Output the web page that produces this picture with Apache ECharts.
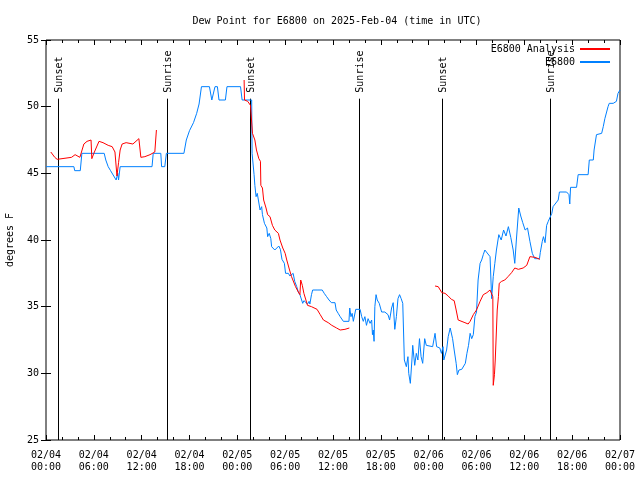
<!DOCTYPE html>
<html>
<head>
<meta charset="utf-8">
<script src="https://cdn.jsdelivr.net/npm/echarts@6/dist/echarts.min.js"></script>
<style>html,body{margin:0;padding:0;background:#fff}#c{width:640px;height:480px}</style>
</head>
<body>
<div id="c"></div>
<script>
// hours since 2025-02-04 00:00 UTC, dew point (F)
const stationSeries = [
[0,45.5],[3.5,45.5],[3.6,45.2],[4.3,45.2],[4.5,46.5],[7.3,46.5],[7.5,46.0],[7.8,45.5],[8.1,45.2],[8.5,44.8],[8.8,44.5],[9.0,45.0],[9.1,44.5],[9.3,45.5],
[13.3,45.5],[13.45,46.5],[14.4,46.5],[14.5,45.5],[14.9,45.5],[15.1,46.5],[17.3,46.5],[17.6,47.5],[18.0,48.2],[18.5,48.8],[18.9,49.5],[19.2,50.2],[19.5,51.5],
[20.5,51.5],[20.8,50.5],[21.0,50.5],[21.2,51.5],[21.5,51.5],[21.7,50.5],[22.5,50.5],[22.7,51.5],[24.4,51.5],[24.6,50.5],[25.8,50.5],[25.85,46.5],[26.1,44.9],
[26.2,44.1],[26.35,43.25],[26.5,43.5],[26.75,43.5],[26.85,42.25],[27.05,42.5],[27.15,41.9],[27.4,41.25],[27.7,40.9],[27.8,40.25],[28.0,40.5],[28.2,40.1],
[28.3,39.5],[28.7,39.25],[28.9,39.25],[29.2,39.55],[29.4,39.3],[29.6,38.55],[29.9,38.25],[30.05,37.5],[30.4,37.5],[30.6,37.3],[30.8,37.25],[31.0,37.5],
[31.2,36.9],[31.45,36.5],[31.65,36.1],[31.85,35.9],[32.05,35.75],[32.2,35.25],[32.35,35.45],[32.6,35.4],[32.8,35.2],[33.0,35.4],[33.1,35.2],[33.3,35.9],
[33.45,36.25],[34.0,36.25],[34.65,36.25],[34.9,36.0],[35.2,35.75],[35.5,35.5],[35.8,35.3],[36.25,35.3],[36.4,34.75],[36.65,34.5],[36.9,34.25],[37.3,33.9],
[38.0,33.9],[38.1,34.9],[38.25,34.25],[38.4,34.5],[38.55,33.9],[38.85,34.8],[39.4,34.8],[39.6,34.25],[39.8,33.9],[40.0,34.25],[40.2,33.6],[40.4,34.1],
[40.65,33.75],[40.85,34.0],[40.95,32.9],[41.05,33.25],[41.15,32.4],[41.25,35.0],[41.4,35.9],[41.55,35.5],[41.8,35.25],[41.9,35.1],[42.1,34.6],[42.3,34.5],
[42.5,34.6],[42.7,34.75],[42.9,34.4],[43.1,34.0],[43.35,34.9],[43.55,35.3],[43.75,33.3],[43.95,34.25],[44.15,35.6],[44.35,35.9],[44.55,35.6],[44.75,35.25],
[44.95,31.0],[45.2,30.5],[45.4,31.25],[45.5,30.0],[45.7,29.25],[45.9,31.0],[46.0,32.1],[46.25,30.6],[46.45,31.5],[46.65,31.0],[46.85,32.6],[47.05,31.25],
[47.25,30.75],[47.5,32.6],[47.7,32.1],[47.9,32.0],[48.5,32.0],[48.8,33.0],[49.0,32.0],[49.4,31.9],[49.6,31.5],[49.8,32.0],[49.9,31.0],[50.05,31.0],
[50.25,31.75],[50.45,32.75],[50.7,33.4],[50.8,33.4],[51.0,32.6],[51.2,31.75],[51.45,30.75],[51.6,29.9],[51.8,30.25],[52.15,30.3],[52.35,30.4],[52.6,30.75],
[52.8,31.5],[53.0,32.1],[53.2,33.0],[53.4,32.6],[53.6,32.9],[53.8,34.25],[54.0,34.6],[54.2,37.0],[54.45,38.25],[54.65,38.5],[54.85,38.9],[55.05,39.25],
[55.3,39.3],[55.7,38.75],[55.9,35.6],[56.1,37.25],[56.3,38.25],[56.5,39.25],[56.8,40.4],[57.1,40.0],[57.4,40.75],[57.7,40.3],[58.0,41.0],[58.3,40.2],
[58.6,39.25],[58.8,38.25],[59.0,40.0],[59.3,42.4],[59.55,41.8],[59.8,41.3],[60.1,40.75],[60.4,40.9],[60.7,39.9],[61.0,39.0],[61.3,38.6],[61.9,38.6],
[62.0,39.05],[62.25,39.9],[62.4,40.25],[62.6,39.8],[62.8,41.1],[63.0,41.4],[63.2,41.4],[63.45,42.0],[63.6,42.5],[63.85,42.6],[64.25,43.0],[64.4,43.6],
[65.3,43.6],[65.6,43.4],[65.7,42.7],[65.8,43.95],[66.55,43.95],[66.75,44.9],[68.0,44.9],[68.15,46.0],[68.65,46.0],[68.75,46.75],[69.05,47.9],[69.7,48.0],
[69.9,48.5],[70.1,49.1],[70.3,49.2],[70.5,50.0],[70.65,50.25],[71.15,50.25],[71.55,50.4],[71.75,51.0],[72.0,51.25]
];
const analysisSeries = [
[0.6,46.6],[1.1,46.2],[1.4,46.05],[1.6,46.0],[3.2,46.2],[3.65,46.4],[4.25,46.2],[4.75,47.2],[5.15,47.4],[5.65,47.5],[5.75,46.1],[6.0,46.5],[6.65,47.4],
[7.15,47.3],[7.8,47.1],[8.3,47.0],[8.65,46.6],[8.9,44.8],[9.1,45.8],[9.3,46.75],[9.55,47.2],[10.05,47.3],[10.9,47.2],[11.65,47.6],[11.9,46.2],[12.4,46.25],
[13.05,46.4],[13.65,46.6],[13.85,48.25],
[20,null],
[24.85,52.0],[24.9,50.5],[25.3,50.4],[25.65,50.1],[25.9,48.0],[26.2,47.5],[26.4,46.75],[26.7,46.1],[26.9,45.9],[26.95,44.1],[27.15,43.9],[27.3,43.0],
[27.6,42.4],[27.8,41.9],[28.1,41.75],[28.4,41.1],[28.7,40.75],[29.15,40.5],[29.35,40.0],[29.7,39.4],[30.0,39.0],[30.2,38.5],[30.55,37.75],[30.8,37.25],
[31.0,37.1],[31.3,36.5],[31.65,36.1],[31.85,35.9],[31.95,37.0],[32.15,36.6],[32.35,36.0],[32.6,35.5],[32.8,35.1],[33.3,35.0],[34.0,34.8],[34.4,34.4],
[34.8,34.0],[35.4,33.8],[35.85,33.6],[36.45,33.4],[36.9,33.25],[37.5,33.3],[38.05,33.4],
[43,null],
[48.8,36.55],[49.2,36.5],[49.65,36.05],[50.05,36.0],[50.45,35.8],[50.85,35.55],[51.2,35.45],[51.45,34.75],[51.7,34.0],[51.95,33.9],[52.55,33.8],
[52.95,33.7],[53.2,33.9],[53.6,34.4],[54.0,34.75],[54.45,35.4],[54.85,35.9],[55.3,36.05],[55.7,36.25],[55.9,36.3],[56.05,35.75],[56.1,29.1],[56.25,29.9],
[56.35,31.0],[56.45,32.5],[56.6,34.75],[56.75,35.75],[56.85,36.75],[57.15,36.9],[57.55,37.0],[57.95,37.25],[58.4,37.55],[58.8,37.9],[59.25,37.8],
[59.85,37.9],[60.3,38.1],[60.7,38.75],[61.35,38.7],[61.95,38.55]
];
const sunHours = [1.55, 15.2, 25.6, 39.3, 49.65, 63.25];
const sunLabels = ['Sunset', 'Sunrise', 'Sunset', 'Sunrise', 'Sunset', 'Sunrise'];
const sunLineTop = 50.6;
const yMin = 25, yMax = 55, yStep = 5;
const xMin = 0, xMax = 72, xStep = 6;
const dayLabels = ['02/04', '02/05', '02/06', '02/07'];
const seriesNames = ['E6800 Analysis', 'E6800'];
const titleText = 'Dew Point for E6800 on 2025-Feb-04 (time in UTC)';
const yAxisName = 'degrees F';

const FONT = '"DejaVu Sans Mono", "Liberation Mono", monospace';
const chart = echarts.init(document.getElementById('c'), null, {renderer: 'canvas'});
function fmtX(v) {
  const d = Math.floor(v / 24);
  const h = Math.round(v - d * 24);
  return dayLabels[d] + '\n' + (h < 10 ? '0' : '') + h + ':00';
}
const xBase = {
  type: 'value', min: xMin, max: xMax, interval: xStep,
  axisLine: {show: false},
  splitLine: {show: false},
  axisTick: {show: true, inside: true, length: 5, lineStyle: {color: '#000'}},
  minorTick: {show: true, splitNumber: 3, length: 3, lineStyle: {color: '#000'}}
};
const yBase = {
  type: 'value', min: yMin, max: yMax, interval: yStep,
  axisLine: {show: false},
  splitLine: {show: false},
  axisTick: {show: true, inside: true, length: 5, lineStyle: {color: '#000'}}
};
chart.setOption({
  animation: false,
  backgroundColor: '#fff',
  title: {
    text: titleText, left: 332, top: 11, textAlign: 'center',
    textStyle: {fontFamily: FONT, fontSize: 10, fontWeight: 'normal', color: '#000'}
  },
  grid: {left: 46, right: 20, top: 40, bottom: 40, show: true, borderColor: '#000', borderWidth: 1,
    backgroundColor: 'transparent', containLabel: false, outerBoundsMode: 'none'},
  legend: {
    data: seriesNames, orient: 'vertical', right: 25, top: 39, align: 'right',
    itemWidth: 30, itemHeight: 2, itemGap: 3,
    icon: 'rect',
    textStyle: {fontFamily: FONT, fontSize: 10, color: '#000', padding: [0, 0, 0, 0]}
  },
  xAxis: [
    Object.assign({}, xBase, {position: 'bottom',
      axisLabel: {show: true, formatter: fmtX, fontFamily: FONT, fontSize: 10, color: '#000', lineHeight: 12, margin: 9, showMinLabel: true, showMaxLabel: true}}),
    Object.assign({}, xBase, {position: 'top', axisLabel: {show: false}})
  ],
  yAxis: [
    Object.assign({}, yBase, {position: 'left',
      name: yAxisName, nameLocation: 'middle', nameGap: 31, nameRotate: 90,
      nameTextStyle: {fontFamily: FONT, fontSize: 10, color: '#000'},
      axisLabel: {fontFamily: FONT, fontSize: 10, color: '#000', margin: 7}}),
    Object.assign({}, yBase, {position: 'right', axisLabel: {show: false}})
  ],
  series: [
    {
      type: 'custom', name: 'sun', xAxisIndex: 0, yAxisIndex: 0, clip: false, z: 1,
      data: sunHours.map(h => [h]),
      renderItem: function (params, api) {
        const h = api.value(0);
        const p0 = api.coord([h, yMin]);
        const p1 = api.coord([h, sunLineTop]);
        const x = Math.round(p0[0]) + 0.5;
        return {
          type: 'group',
          children: [
            {type: 'line', shape: {x1: x, y1: p0[1], x2: x, y2: p1[1]}, style: {stroke: '#000', lineWidth: 1}},
            {type: 'text', x: x + 1, y: p1[1] - 6, rotation: Math.PI / 2,
              style: {text: sunLabels[params.dataIndex], font: '10px ' + FONT, fill: '#000', align: 'left', verticalAlign: 'middle'}}
          ]
        };
      }
    },
    {
      type: 'line', name: seriesNames[0], data: analysisSeries, showSymbol: false, symbol: 'none',
      connectNulls: false, lineStyle: {color: '#ff0000', width: 1}, itemStyle: {color: '#ff0000'}, z: 3
    },
    {
      type: 'line', name: seriesNames[1], data: stationSeries, showSymbol: false, symbol: 'none',
      lineStyle: {color: '#0080ff', width: 1}, itemStyle: {color: '#0080ff'}, z: 2
    }
  ]
});
</script>
</body>
</html>
